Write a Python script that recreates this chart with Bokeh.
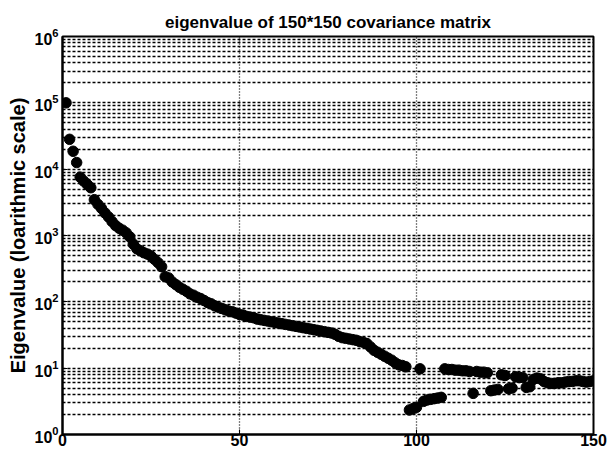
from bokeh.plotting import figure
from bokeh.models import Range1d, FixedTicker
from bokeh.embed import file_html
from bokeh.resources import INLINE

# eigenvalue index and log10 of eigenvalue
index = list(range(1, 151))
log_eig = [
    5.00, 4.45, 4.27, 4.10, 3.88, 3.82, 3.77, 3.72, 3.54, 3.47,
    3.41, 3.34, 3.28, 3.21, 3.15, 3.11, 3.08, 3.04, 2.98, 2.87,
    2.80, 2.77, 2.74, 2.72, 2.69, 2.64, 2.59, 2.53, 2.38, 2.36,
    2.30, 2.26, 2.22, 2.19, 2.16, 2.12, 2.10, 2.07, 2.05, 2.02,
    1.99, 1.97, 1.94, 1.92, 1.90, 1.88, 1.86, 1.85, 1.83, 1.81,
    1.80, 1.78, 1.77, 1.76, 1.74, 1.73, 1.72, 1.71, 1.70, 1.69,
    1.68, 1.67, 1.66, 1.65, 1.64, 1.63, 1.62, 1.61, 1.60, 1.59,
    1.58, 1.57, 1.56, 1.55, 1.54, 1.53, 1.51, 1.48, 1.46, 1.45,
    1.44, 1.43, 1.42, 1.40, 1.39, 1.37, 1.32, 1.27, 1.24, 1.21,
    1.18, 1.15, 1.12, 1.08, 1.05, 1.04, 1.02, 0.37, 0.39, 0.41,
    0.99, 0.50, 0.52, 0.53, 0.54, 0.55, 0.56, 0.99, 0.98, 0.98,
    0.97, 0.97, 0.96, 0.96, 0.95, 0.62, 0.95, 0.94, 0.94, 0.93,
    0.66, 0.67, 0.68, 0.90, 0.89, 0.69, 0.70, 0.87, 0.86, 0.86,
    0.71, 0.72, 0.83, 0.85, 0.84, 0.80, 0.78, 0.77, 0.77, 0.78,
    0.78, 0.79, 0.80, 0.80, 0.81, 0.81, 0.80, 0.79, 0.80, 0.81,
]
eigenvalue = [10 ** v for v in log_eig]

x_ticks = [0, 50, 100, 150]
y_major = [10 ** k for k in range(0, 7)]
y_minor = [m * 10 ** k for k in range(0, 6) for m in range(2, 10)]

FONT = "Liberation Sans"

p = figure(width=608, height=450, output_backend="svg", toolbar_location=None,
           y_axis_type="log",
           x_range=Range1d(0, 150), y_range=Range1d(1, 1e6),
           min_border_left=62, min_border_right=15,
           min_border_top=36, min_border_bottom=16)

p.title.text = "eigenvalue of 150*150 covariance matrix"
p.title.align = "center"
p.title.text_font = FONT
p.title.text_font_size = "17px"
p.title.text_font_style = "bold"
p.title.text_color = "black"
p.title.offset = 60

p.scatter(index, eigenvalue, size=10.5, color="black", marker="circle")

yt = FixedTicker(ticks=y_major, minor_ticks=y_minor)
p.yaxis.ticker = yt
p.ygrid.ticker = yt
xt = FixedTicker(ticks=x_ticks)
p.xaxis.ticker = xt
p.xgrid.ticker = xt

for ax in (p.xaxis, p.yaxis):
    ax.axis_line_width = 2
    ax.axis_line_color = "black"
    ax.major_tick_in = 5
    ax.major_tick_out = 0
    ax.minor_tick_in = 0
    ax.minor_tick_out = 0
    ax.major_tick_line_color = "black"
    ax.major_label_text_font = FONT
    ax.major_label_text_font_style = "bold"
    ax.major_label_text_color = "black"

p.xaxis.major_label_text_font_size = "16px"
p.xaxis.major_label_standoff = -1
p.yaxis.major_label_text_font_size = "16px"
p.yaxis.major_label_standoff = 4

p.yaxis.axis_label = "Eigenvalue (loarithmic scale)"
p.yaxis.axis_label_text_font = FONT
p.yaxis.axis_label_text_font_size = "20px"
p.yaxis.axis_label_text_font_style = "bold"
p.yaxis.axis_label_text_color = "black"
p.yaxis.axis_label_standoff = 2

p.ygrid.grid_line_color = "black"
p.ygrid.grid_line_dash = "3 2"
p.ygrid.grid_line_width = 1.3
p.ygrid.minor_grid_line_color = "black"
p.ygrid.minor_grid_line_dash = "3 2"
p.ygrid.minor_grid_line_width = 1.3
p.xgrid.grid_line_color = "black"
p.xgrid.grid_line_dash = "1 2"
p.xgrid.grid_line_width = 1.3

p.outline_line_color = "black"
p.outline_line_width = 2
p.background_fill_color = "white"
p.border_fill_color = "white"

open("out.html", "w").write(file_html(p, INLINE))
